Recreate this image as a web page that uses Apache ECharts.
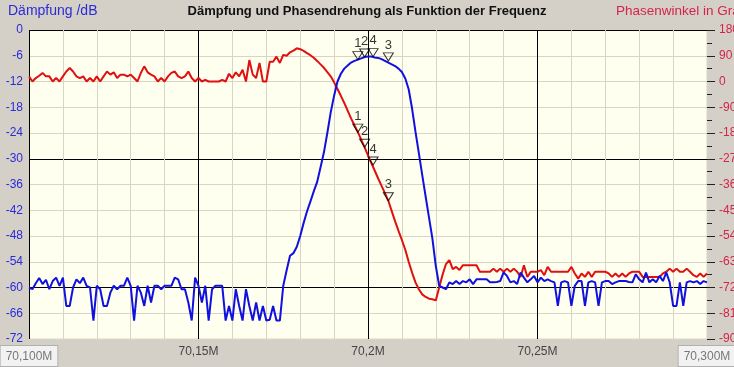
<!DOCTYPE html>
<html><head><meta charset="utf-8">
<script src="https://cdn.jsdelivr.net/npm/echarts@6/dist/echarts.min.js"></script>
<style>html,body{margin:0;padding:0;background:#d4d0c8}#c{width:734px;height:367px}</style>
</head><body><div id="c"></div>
<script>
// Frequency offset in kHz above 70,100 MHz (1 kHz step, 0..200)
const freqStepKHz = 1;

// Attenuation (Dämpfung) in dB, one value per kHz
const daempfungDb = [
 -60,-60.4,-59,-57.8,-59.2,-58.2,-60.4,-58.5,-57.7,-59.6,
 -57.7,-64.3,-64.3,-60,-58.1,-59,-57.7,-59.6,-60,-67.7,
 -59.6,-60.4,-64.3,-64.3,-61.2,-59.6,-60.4,-59.6,-59.6,-57.7,
 -59.6,-67.7,-59.6,-61.2,-64.3,-59.6,-63.5,-59.6,-59.6,-60.4,
 -59.6,-59.6,-59.6,-57.7,-58.1,-60.4,-60.4,-63.5,-67.7,-57.7,
 -59.6,-63.5,-59.6,-67.7,-60.4,-59.6,-59.6,-59.6,-67.7,-64.3,
 -67.7,-60.4,-64.3,-67.7,-60.4,-64.3,-67.7,-63.5,-67.7,-64.3,
 -67.7,-67.5,-64.3,-67.7,-67.7,-59.6,
 -56,-52.6,-52,-50.5,-48,-45,-42.3,-40,-37.6,-35.4,
 -32,-28.5,-24,-19.2,-15.3,-12,-10.2,-9,-8.3,-7.6,
 -7.2,-6.9,-6.6,-6.3,-6.2,-6.2,-6.4,-6.5,-6.8,-7.2,
 -7.6,-8,-8.4,-9,-9.8,-11.3,-13.8,-18.3,-23.7,-28.7,
 -33.8,-38.8,-43.7,-48.6,-55,-59.6,
 -60,-60.4,-58.8,-59.2,-58.5,-59.2,-58.5,-58.8,-58.1,-59.2,
 -58.1,-58.1,-58.1,-58.1,-58.8,-58.8,-58.7,-58.5,-56.5,-57.3,
 -58.8,-58.5,-59.2,-56.5,-57.7,-58.8,-58.1,-57.3,-58.8,-57.7,
 -58.5,-58.1,-58.5,-58.8,-64.3,-58.8,-58.5,-58.8,-64.3,-59.6,
 -58.5,-58.5,-64.3,-58.8,-58.5,-58.8,-64.3,-58.8,-58.5,-58.5,
 -59.2,-58.8,-58.5,-58.5,-58.5,-58.7,-58.8,-56.9,-58.1,-58.8,
 -56.5,-58.8,-58.1,-58.8,-57.3,-58.5,-56.5,-58.8,-64.3,-64.3,
 -58.8,-64.3,-58.8,-58.5,-58.8,-58.5,-59.2,-58.5,-58.8
];

// Phase angle (Phasenwinkel) in degrees, one value per kHz
const phaseDeg = [
 18,0,12,20,30,18,18,0,12,0,
 18,35,47,35,18,12,18,0,12,0,
 18,0,18,35,24,32,12,24,24,18,
 24,12,0,30,53,32,24,18,0,12,
 0,18,30,35,18,12,18,35,12,0,
 12,0,6,0,0,0,0,6,0,27,
 12,32,18,41,0,75,24,12,65,0,
 0,69,69,87,65,
 93,90,102,108,116,113,107,99,92,83,
 72,60,48,33,18,-3,-26,-50,-75,-102,
 -129,-153,-177,-203,-230,-258,-285,-312,-339,-365,
 -390,-417,-453,-489,-522,-554,-588,-630,-668,-702,
 -726,-744,-753,-759,-761,-765,-720,-675,-638,-624,
 -656,-648,-659,-642,-642,-642,-642,-642,-665,-665,
 -665,-665,-654,-665,-654,-665,-654,-665,-654,-665,
 -683,-642,-683,-665,-665,-665,-659,-677,-648,-665,
 -665,-665,-665,-665,-665,-648,-671,-689,-671,-683,
 -665,-683,-665,-665,-665,-665,-671,-683,-671,-683,
 -671,-683,-671,-665,-665,-665,-683,-683,-683,-683,
 -683,-683,-671,-665,-654,-665,-654,-665,-665,-654,
 -665,-677,-683,-671,-683,-671
];

// Markers
const markerLabels = ['1','2','4','3'];
const markerFreqKHz = [97, 99, 101.5, 106];
const markerDb = [-6.9, -6.3, -6.2, -7.2];
const markerDeg = [-177, -230, -292, -417];

// Axis tick labels
const xLabelValues = [0, 50, 100, 150, 200];
const xLabelTexts = ['70,100M', '70,15M', '70,2M', '70,25M', '70,300M'];

const bluePts = daempfungDb.map((v, i) => [i * freqStepKHz, v]);
const redPts = phaseDeg.map((v, i) => [i * freqStepKHz, v]);
const blueMarks = markerFreqKHz.map((f, i) => [f, markerDb[i]]);
const redMarks = markerFreqKHz.map((f, i) => [f, markerDeg[i]]);

const FONT = 'Liberation Sans, Arial, sans-serif';
const light = '#d8d5c4';
const chart = echarts.init(document.getElementById('c'), null, {renderer: 'canvas'});
const triPath = 'path://M0,0 L10,0 L5,8 Z';
function markerSeries(data, yIdx) {
  return {
    type: 'scatter', yAxisIndex: yIdx, data: data, z: 5,
    symbol: triPath, symbolSize: [10, 8], symbolOffset: [0, -4],
    itemStyle: {color: 'rgba(0,0,0,0)', borderColor: '#000', borderWidth: 1},
    label: {show: true, position: 'top', distance: 1, color: '#000', fontSize: 13, fontFamily: FONT,
      formatter: p => markerLabels[p.dataIndex]},
    emphasis: {disabled: true}, silent: true
  };
}
chart.setOption({
  animation: false,
  backgroundColor: '#d4d0c8',
  textStyle: {fontFamily: FONT},
  title: [
    {text: 'Dämpfung und Phasendrehung als Funktion der Frequenz', left: 'center', top: 5, padding: 0,
     textStyle: {fontSize: 13, fontWeight: 'bold', color: '#111', fontFamily: FONT}},
    {text: 'Dämpfung /dB', left: 8, top: 4, padding: 0,
     textStyle: {fontSize: 14, fontWeight: 'normal', color: '#2b2bd8', fontFamily: FONT}},
    {text: 'Phasenwinkel in Grad', left: 616, top: 4, padding: 0,
     textStyle: {fontSize: 13.5, fontWeight: 'normal', color: '#d4244a', fontFamily: FONT}}
  ],
  grid: {left: 29, right: 27, top: 30, bottom: 28, show: true, backgroundColor: '#fffff0',
         borderColor: light, borderWidth: 1, containLabel: false, outerBoundsMode: 'none'},
  xAxis: {
    type: 'value', min: 0, max: 200, interval: 10,
    axisLine: {show: false}, axisTick: {show: false},
    splitLine: {show: true, showMaxLine: false, lineStyle: {color: ['#000', light, light, light, light], width: 1}},
    axisLabel: {
      margin: 7, fontSize: 12, color: '#444', hideOverlap: false, showMinLabel: true, showMaxLabel: true,
      formatter: v => {
        const i = xLabelValues.indexOf(v);
        if (i < 0) return '';
        if (i === 0 || i === xLabelValues.length - 1) return '{box|' + xLabelTexts[i] + '}';
        return xLabelTexts[i];
      },
      rich: {box: {borderColor: '#b0b0b0', borderWidth: 1, backgroundColor: '#f2f2f2', color: '#777',
                   padding: [5, 5, 3, 5], fontSize: 12, fontFamily: FONT}}
    }
  },
  yAxis: [
    {type: 'value', min: -72, max: 0, interval: 6,
     axisLine: {show: false}, axisTick: {show: false},
     splitLine: {show: true, lineStyle: {color: [light, light, '#000', light, light], width: 1}},
     axisLabel: {margin: 6, fontSize: 12, color: '#2b2bd8', showMinLabel: true, showMaxLabel: true}},
    {type: 'value', position: 'right', min: -900, max: 180, interval: 90,
     axisLine: {show: false},
     axisTick: {show: true, length: 8, lineStyle: {color: '#222'}},
     minorTick: {show: true, splitNumber: 2, length: 5, lineStyle: {color: '#222'}},
     splitLine: {show: false},
     axisLabel: {margin: 12, fontSize: 12, color: '#d4244a', showMinLabel: true, showMaxLabel: true}}
  ],
  series: [
    {type: 'line', name: 'Phase', yAxisIndex: 1, data: redPts, showSymbol: false, symbol: 'none',
     lineStyle: {color: '#e01010', width: 2}, itemStyle: {color: '#e01010'}, silent: true, z: 2},
    {type: 'line', name: 'Dämpfung', yAxisIndex: 0, data: bluePts, showSymbol: false, symbol: 'none',
     lineStyle: {color: '#1010e0', width: 2}, itemStyle: {color: '#1010e0'}, silent: true, z: 3},
    markerSeries(blueMarks, 0),
    markerSeries(redMarks, 1)
  ]
});
</script></body></html>
